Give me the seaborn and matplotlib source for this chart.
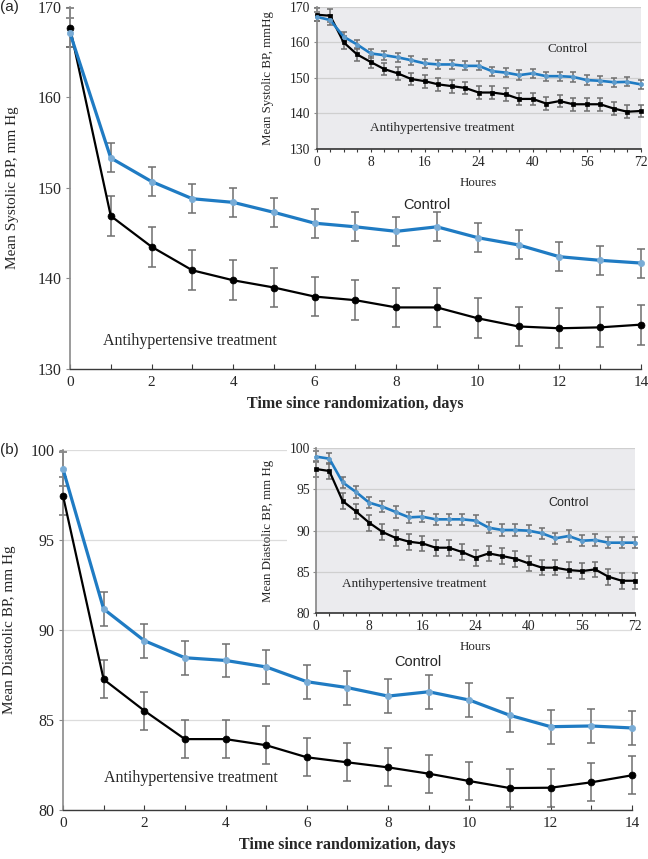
import numpy as np
import pandas as pd
import matplotlib.pyplot as plt
import seaborn as sns
from matplotlib.patches import Rectangle
from matplotlib.ticker import MultipleLocator, FixedLocator

sns.set_theme(style="white")
plt.rcParams['font.family'] = ['Liberation Serif', 'DejaVu Serif']

BLUE = '#1f7bc3'
SANS = ['Liberation Sans', 'DejaVu Sans']

# main panels, days 0-14
days = list(range(15))
sbp_control = [167.1, 153.3, 150.7, 148.8, 148.4, 147.3, 146.1, 145.7, 145.2, 145.7,
               144.5, 143.7, 142.4, 142.0, 141.7]
sbp_treat = [167.7, 146.9, 143.5, 140.9, 139.8, 139.0, 138.0, 137.6, 136.8, 136.8,
             135.6, 134.7, 134.5, 134.6, 134.9]
sbp_control_err = [1.6] * 15
sbp_treat_err = [2.2] * 15

dbp_control = [98.94, 91.17, 89.41, 88.46, 88.31, 87.95, 87.13, 86.80, 86.33, 86.57,
               86.11, 85.26, 84.63, 84.67, 84.56]
dbp_treat = [97.46, 87.26, 85.52, 83.94, 83.94, 83.60, 82.93, 82.65, 82.37, 82.02,
             81.61, 81.22, 81.24, 81.54, 81.93]
dbp_control_err = [0.94] * 15
dbp_treat_err = [1.06] * 15

# insets, first 72 hours
hours = [0, 2, 4, 6, 8, 10, 12, 14, 16, 18, 20, 22, 24,
         28, 32, 36, 40, 44, 48, 52, 56, 60, 64, 68, 72]
hour_labels = [0, 8, 16, 24, 40, 56, 72]
sbp_h_control = [167.2, 166.3, 161.6, 159.4, 156.9, 156.4, 155.8, 155.0, 154.1, 153.8,
                 153.8, 153.4, 153.4, 151.9, 151.5, 150.8, 151.3, 150.5, 150.5, 150.3,
                 149.4, 149.2, 148.8, 148.9, 148.2]
sbp_h_treat = [167.8, 167.5, 160.0, 156.6, 154.5, 152.5, 151.3, 149.7, 149.1, 148.2,
               147.7, 147.2, 145.9, 145.9, 145.4, 144.1, 144.1, 142.8, 143.5, 142.6,
               142.6, 142.6, 141.4, 140.5, 140.7]
dbp_h_control = [98.99, 98.74, 95.86, 94.69, 93.39, 92.90, 92.25, 91.60, 91.68, 91.36,
                 91.36, 91.36, 91.20, 90.34, 90.06, 90.06, 89.98, 89.66, 89.05, 89.33,
                 88.76, 88.84, 88.52, 88.52, 88.52]
dbp_h_treat = [97.48, 97.24, 93.59, 92.33, 90.95, 89.82, 89.09, 88.64, 88.44, 87.91,
               87.91, 87.38, 86.69, 87.22, 86.90, 86.57, 86.00, 85.48, 85.48, 85.19,
               85.07, 85.27, 84.38, 83.89, 83.89]


def draw_series(ax, x, y, err, color, lw, marker, ms, mfc, capsize):
    df = pd.DataFrame({'x': x, 'y': y})
    ax.errorbar(df['x'], df['y'], yerr=err, fmt='none', ecolor='#6f6f6f',
                elinewidth=1.1, capsize=capsize, capthick=1.1, zorder=2, clip_on=False)
    sns.lineplot(data=df, x='x', y='y', ax=ax, color=color, lw=lw, marker=marker,
                 markersize=ms, markerfacecolor=mfc, markeredgecolor=mfc,
                 markeredgewidth=0.5, zorder=3, clip_on=False)


def style_main(ax, ylim, ystep, xlabel, ylabel, ylab_x):
    ax.set_xlim(0, 14)
    ax.set_ylim(*ylim)
    ax.xaxis.set_major_locator(MultipleLocator(2))
    ax.xaxis.set_minor_locator(MultipleLocator(1))
    ax.yaxis.set_major_locator(MultipleLocator(ystep))
    for s in ['top', 'right']:
        ax.spines[s].set_visible(False)
    ax.spines['left'].set_color('#8a8a8a')
    ax.spines['left'].set_linewidth(1.2)
    ax.spines['bottom'].set_color('#3a3a3a')
    ax.spines['bottom'].set_linewidth(1.0)
    ax.tick_params(axis='x', which='both', direction='in', length=3.5, width=0.8,
                   color='#3a3a3a', labelsize=11, pad=5, bottom=True)
    ax.tick_params(axis='y', direction='out', length=3, width=0.8, color='#8a8a8a',
                   labelsize=11.5, pad=3, left=True)
    ax.set_xlabel(xlabel, fontsize=11.5, fontweight='bold', labelpad=5)
    ax.set_ylabel(ylabel, fontsize=11)
    ax.yaxis.set_label_coords(ylab_x, 0.5)


def style_inset(ax, ylim, ystep, xlabel, ylabel, xlab_y):
    ax.set_facecolor('#ebebee')
    ax.set_xlim(0, len(hours) - 1)
    ax.set_ylim(*ylim)
    ax.xaxis.set_major_locator(FixedLocator([hours.index(h) for h in hour_labels]))
    ax.set_xticklabels([str(h) for h in hour_labels])
    ax.xaxis.set_minor_locator(MultipleLocator(1))
    ax.yaxis.set_major_locator(MultipleLocator(ystep))
    ax.yaxis.grid(True, color='#cfcfcf', lw=0.9)
    ax.set_axisbelow(True)
    for s in ['top', 'right']:
        ax.spines[s].set_visible(False)
    ax.spines['left'].set_color('#8a8a8a')
    ax.spines['bottom'].set_color('#3a3a3a')
    ax.tick_params(axis='x', which='both', direction='out', length=2.5, width=0.8,
                   color='#3a3a3a', labelsize=9.8, pad=2.5, bottom=True)
    ax.tick_params(axis='y', direction='out', length=2.5, width=0.8, color='#8a8a8a',
                   labelsize=9.8, pad=2, left=True)
    ax.set_xlabel(xlabel, fontsize=9.3)
    ax.set_ylabel(ylabel, fontsize=9.3)
    ax.xaxis.set_label_coords(0.5, xlab_y)
    ax.yaxis.set_label_coords(-0.132, 0.5)


fig = plt.figure(figsize=(6.48, 8.59), dpi=100)

# ---- (a) systolic ----
ax1 = fig.add_axes([0.108, 0.5704, 0.881, 0.4218])
draw_series(ax1, days, sbp_treat, sbp_treat_err, 'black', 1.6, 'o', 5, 'black', 3)
draw_series(ax1, days, sbp_control, sbp_control_err, BLUE, 2.3, 'o', 4.5, '#79acd6', 3)
style_main(ax1, (130, 170), 10, 'Time since randomization, days',
           'Mean Systolic BP, mm Hg', -0.089)
ax1.text(8.75, 148.1, 'Control', fontsize=10.5, family=SANS, ha='center', va='center')
ax1.text(0.81, 133.06, 'Antihypertensive treatment', fontsize=11.5, ha='left', va='center')
fig.text(0.0, 0.992, '(a)', fontsize=11, family=SANS, ha='left', va='center')

ins1 = fig.add_axes([0.4887, 0.8265, 0.5, 0.1655], zorder=2)
xi = list(range(len(hours)))
draw_series(ins1, xi, sbp_h_treat, 1.8, 'black', 1.6, 's', 2.5, 'black', 2)
draw_series(ins1, xi, sbp_h_control, 1.3, BLUE, 1.9, 'o', 3, '#5f9ccc', 2)
style_inset(ins1, (130, 170), 10, 'Houres', 'Mean Systolic BP, mmHg', -0.197)
ins1.text(18.6, 158.1, 'Control', fontsize=9.5, ha='center', va='center')
ins1.text(3.95, 136.0, 'Antihypertensive treatment', fontsize=9.5, ha='left', va='center')

# ---- (b) diastolic ----
ax2 = fig.add_axes([0.0972, 0.0570, 0.878, 0.4191])
ax2.yaxis.grid(True, color='#dcdcdc', lw=0.9)
ax2.set_axisbelow(True)
draw_series(ax2, days, dbp_treat, dbp_treat_err, 'black', 1.6, 'o', 5, 'black', 3)
draw_series(ax2, days, dbp_control, dbp_control_err, BLUE, 2.3, 'o', 4.5, '#79acd6', 3)
style_main(ax2, (80, 100), 5, 'Time since randomization, days',
           'Mean Diastolic BP, mm Hg', -0.082)
ax2.text(8.74, 88.2, 'Control', fontsize=10.5, family=SANS, ha='center', va='center')
ax2.text(1.01, 81.78, 'Antihypertensive treatment', fontsize=11.5, ha='left', va='center')
fig.text(0.0, 0.476, '(b)', fontsize=11, family=SANS, ha='left', va='center')

fig.add_artist(Rectangle((287 / 648, 1 - 622 / 859), (648 - 287) / 648, 182 / 859,
                         transform=fig.transFigure, facecolor='white',
                         edgecolor='none', zorder=1))
ins2 = fig.add_axes([0.4877, 0.2867, 0.4923, 0.1914], zorder=2)
draw_series(ins2, xi, dbp_h_treat, 0.95, 'black', 1.6, 's', 2.5, 'black', 2)
draw_series(ins2, xi, dbp_h_control, 0.7, BLUE, 1.9, 'o', 3, '#5f9ccc', 2)
style_inset(ins2, (80, 100), 5, 'Hours', 'Mean Diastolic BP, mm Hg', -0.172)
ins2.text(19.0, 93.3, 'Control', fontsize=9, family=SANS, ha='center', va='center')
ins2.text(1.93, 83.5, 'Antihypertensive treatment', fontsize=9.5, ha='left', va='center')

fig.savefig('out.png', dpi=100)
